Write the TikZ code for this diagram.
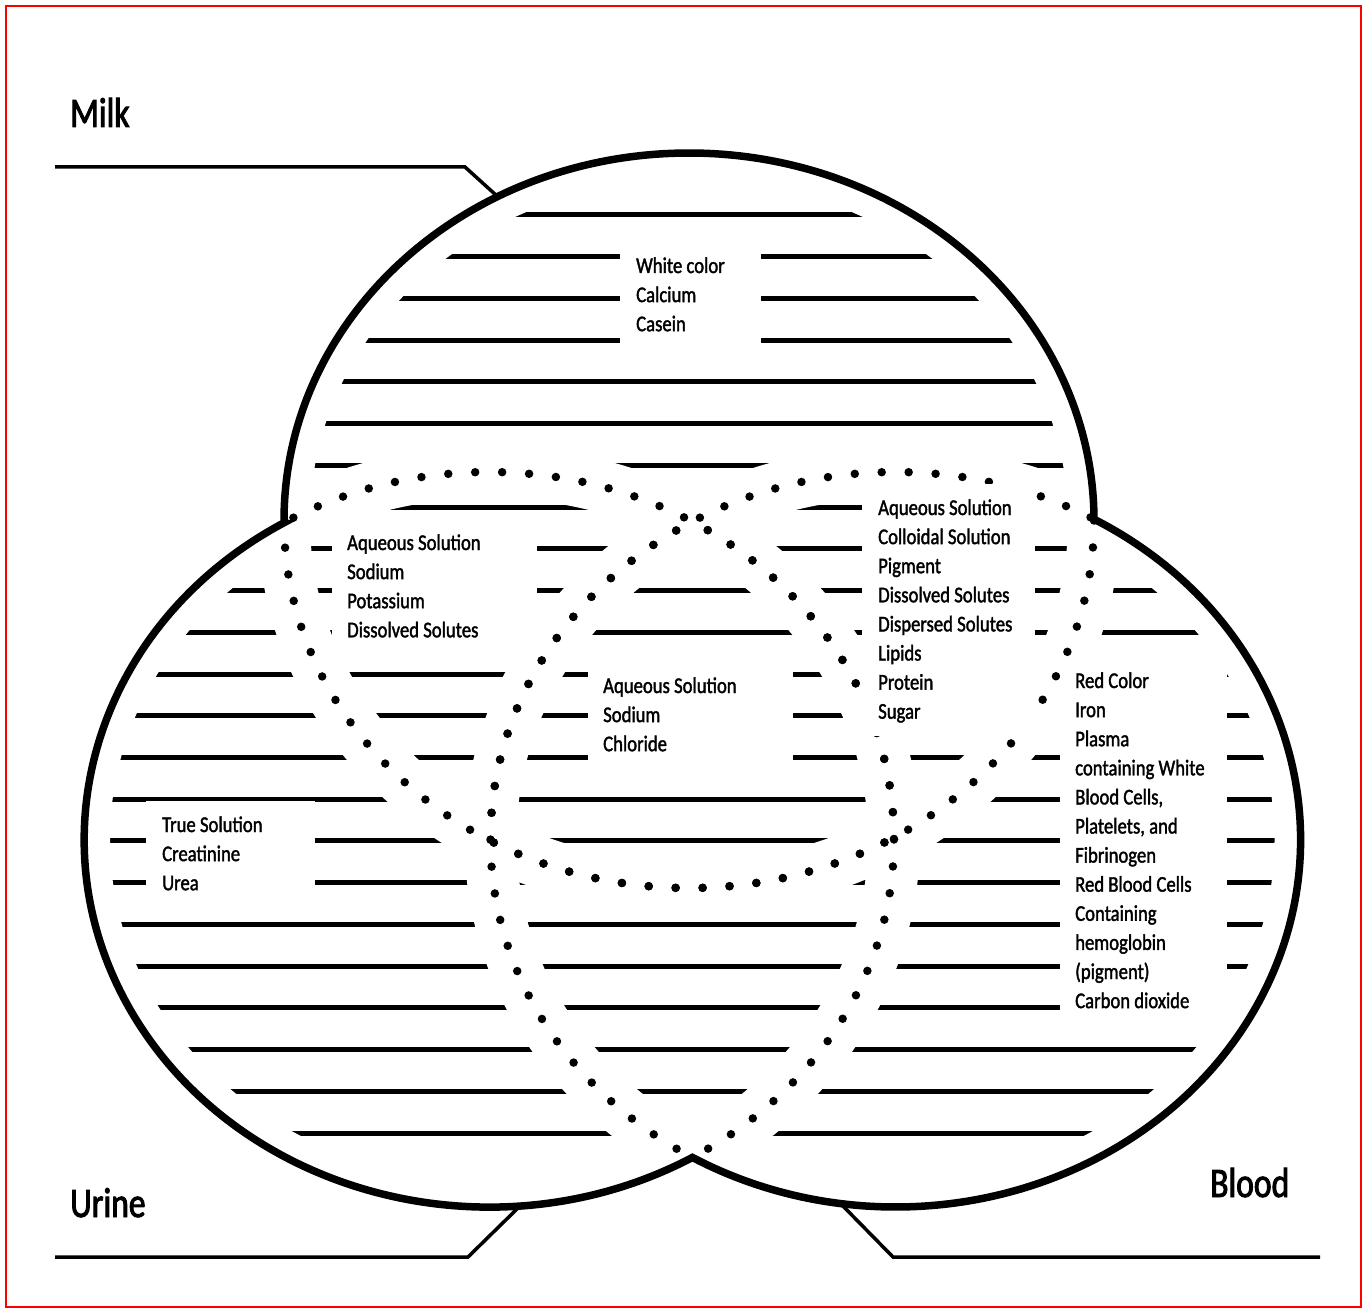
\documentclass[tikz,border=0pt]{standalone}
\usepackage{fontspec}
\setmainfont{Carlito}
\newfontfamily\txtfont[FakeStretch=0.83,FakeBold=1.6]{Carlito}
\newfontfamily\lblfont[FakeStretch=0.8,FakeBold=2.2]{Carlito}
\usetikzlibrary{calc}
\begin{document}
\begin{tikzpicture}[x=1pt,y=-1pt,
  hstripe/.style={line width=5pt},
  gapline/.style={white,line width=52pt},
  dotline/.style={line width=8.5pt,line cap=round,dash pattern=on 0pt off 26.98pt},
  outline/.style={line width=7.5pt,line join=miter},
  lead/.style={line width=3.5pt},
  txt/.style={anchor=base west,inner sep=0pt,font=\txtfont\fontsize{22.5}{29.1}\selectfont},
  lbl/.style={anchor=base west,inner sep=0pt,font=\lblfont\fontsize{42}{50}\selectfont},
  er/.style={x radius=405,y radius=367.5}]
\useasboundingbox (0,0) rectangle (1367,1313);
\coordinate (T) at (689,520.5);
\coordinate (BL) at (489,839.5);
\coordinate (BR) at (895.5,839.5);
% stripes
\foreach \c in {T,BL,BR}{
  \begin{scope}
    \clip (\c) ellipse [er];
    \foreach \k in {0,...,22}{
      \pgfmathsetmacro{\yy}{215+41.73*\k}
      \draw[hstripe] (0,\yy) -- (1367,\yy);
    }
  \end{scope}
}
% white gaps along all boundaries
\foreach \c in {T,BL,BR}{ \draw[gapline] (\c) ellipse [er]; }
% dotted inner arcs
\begin{scope}
  \clip (BL) ellipse [er];
  \draw[dotline] (T) ellipse [er];
  \draw[dotline] (BR) ellipse [er];
\end{scope}
\begin{scope}
  \clip (BR) ellipse [er];
  \draw[dotline] (T) ellipse [er];
  \draw[dotline] (BL) ellipse [er];
\end{scope}
\begin{scope}
  \clip (T) ellipse [er];
  \draw[dotline] (BL) ellipse [er];
  \draw[dotline] (BR) ellipse [er];
\end{scope}
% outer outline
\draw[outline] ($(T)+(179.68:405 and 367.5)$)
  arc[start angle=179.68,end angle=359.79,er]
  arc[start angle=-60.66,end angle=120.1,er]
  arc[start angle=59.88,end angle=239.6,er] -- cycle;
% white text boxes
\fill[white] (620,235) rectangle (761,360);
\fill[white] (332,520) rectangle (537,655);
\fill[white] (588,650) rectangle (793,780);
\fill[white] (862,484) rectangle (1035,736);
\fill[white] (1060,662) rectangle (1227,1025);
\fill[white] (146,801) rectangle (315,905);
% texts
\node[txt] (milktxt) at (636,273) {\begin{tabular}[t]{@{}l@{}}White color\\Calcium\\Casein\end{tabular}};
\node[txt] (mutxt) at (347,550) {\begin{tabular}[t]{@{}l@{}}Aqueous Solution\\Sodium\\Potassium\\Dissolved Solutes\end{tabular}};
\node[txt] (alltxt) at (603,693) {\begin{tabular}[t]{@{}l@{}}Aqueous Solution\\Sodium\\Chloride\end{tabular}};
\node[txt] (mbtxt) at (878,515) {\begin{tabular}[t]{@{}l@{}}Aqueous Solution\\Colloidal Solution\\Pigment\\Dissolved Solutes\\Dispersed Solutes\\Lipids\\Protein\\Sugar\end{tabular}};
\node[txt] (bloodtxt) at (1075,688) {\begin{tabular}[t]{@{}l@{}}Red Color\\Iron\\Plasma\\containing White\\Blood Cells,\\Platelets, and\\Fibrinogen\\Red Blood Cells\\Containing\\hemoglobin\\(pigment)\\Carbon dioxide\end{tabular}};
\node[txt] (urinetxt) at (162,832) {\begin{tabular}[t]{@{}l@{}}True Solution\\Creatinine\\Urea\end{tabular}};
% labels
\node[lbl] (milk) at (70,127) {Milk};
\node[lbl] (urine) at (70,1217) {Urine};
\node[lbl] (blood) at (1210,1197) {Blood};
% leader lines
\coordinate (m0) at (55,167);
\coordinate (m1) at (465,167);
\coordinate (m2) at (497,196);
\draw[lead] (m0) -- (m1) -- (m2);
\coordinate (u0) at (55,1257);
\coordinate (u1) at (468,1257);
\coordinate (u2) at (520,1206);
\draw[lead] (u0) -- (u1) -- (u2);
\coordinate (b0) at (840,1203);
\coordinate (b1) at (893,1257);
\coordinate (b2) at (1320,1257);
\draw[lead] (b0) -- (b1) -- (b2);
% frame
\draw[red,line width=2pt] (6,6) rectangle (1361,1307);
\end{tikzpicture}
\end{document}
